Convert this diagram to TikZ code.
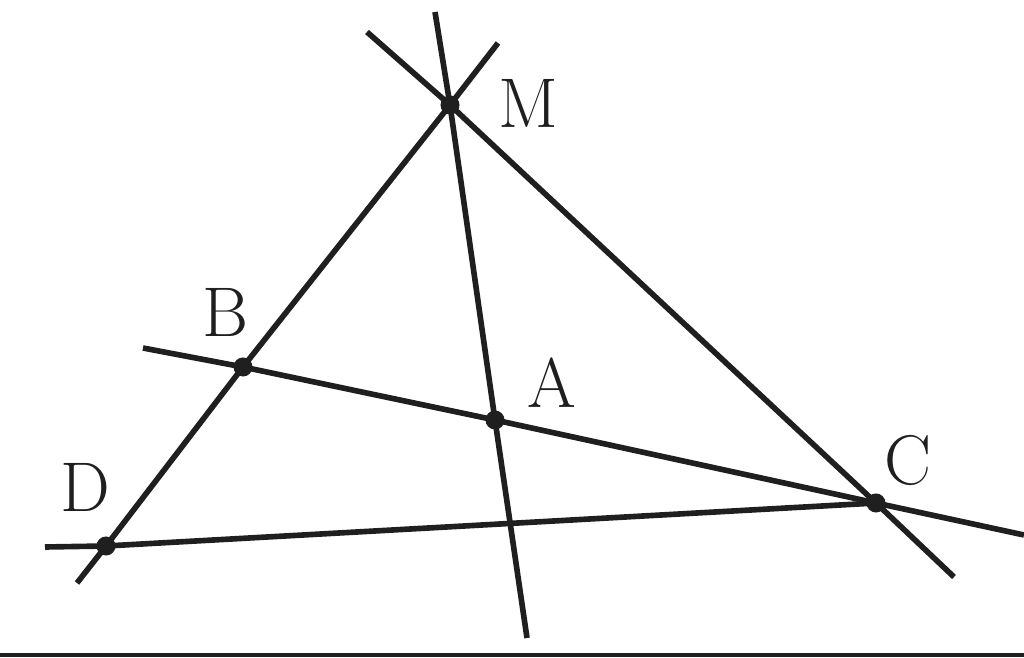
\documentclass[tikz,border=0pt]{standalone}
\begin{document}
\begin{tikzpicture}[x=0.01cm,y=-0.01cm,line width=1.6pt,color=black!88,
  lbl/.style={font=\fontsize{20}{24}\selectfont}]
\useasboundingbox (0,0) rectangle (1024,658);
% points
\coordinate (M) at (450,105);
\coordinate (B) at (243,367);
\coordinate (A) at (495,420);
\coordinate (C) at (876,503);
\coordinate (D) at (106,546);
% free ends of the lines
\coordinate (dbmlo) at (77,583);
\coordinate (dbmup) at (498,43);
\coordinate (maup) at (435,12);
\coordinate (malo) at (527,638);
\coordinate (mcup) at (367,32);
\coordinate (mclo) at (954,577);
\coordinate (bacl) at (143,348);
\coordinate (bacr) at (1024,535);
\coordinate (dcl) at (45,547);
\draw (dbmlo)--(D)--(B)--(M)--(dbmup);
\draw (maup)--(M)--(A)--(malo);
\draw (mcup)--(M)--(C)--(mclo);
\draw (bacl)--(B)--(A)--(C)--(bacr);
\draw (dcl)--(D)--(C);
\foreach \p in {M,B,A,C,D} \fill (\p) circle (0.095cm);
\node[lbl] (lM) at (528,103) {M};
\node[lbl] (lB) at (225,312) {B};
\node[lbl] (lA) at (552,383) {A};
\node[lbl] (lC) at (908,460) {C};
\node[lbl] (lD) at (85,487) {D};
\fill (0,653) rectangle (1024,657);
\end{tikzpicture}
\end{document}
